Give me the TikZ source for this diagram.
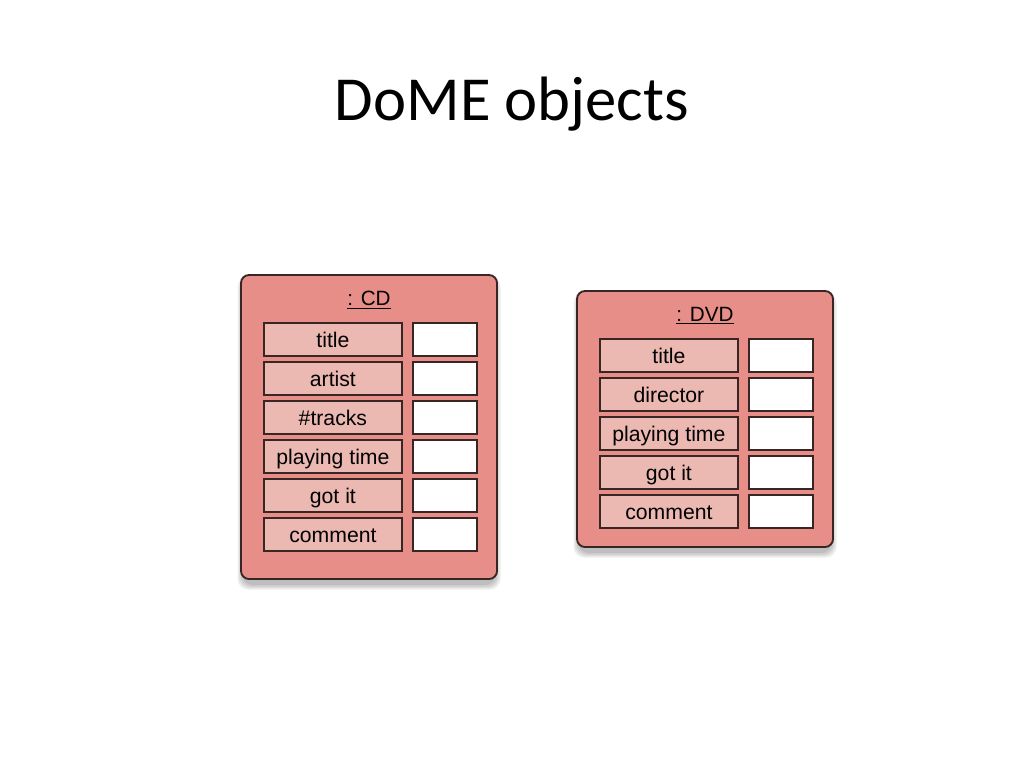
\documentclass[tikz,border=0pt]{standalone}
\usepackage{fontspec}
\setmainfont{Carlito}
\newfontfamily\lblfont{Liberation Sans}
\definecolor{objfill}{RGB}{232,142,136}
\definecolor{lblfill}{RGB}{236,184,178}
\definecolor{edge}{RGB}{55,38,36}
\begin{document}
\begin{tikzpicture}[x=0.75pt,y=-0.75pt,
  objbox/.style={draw=edge,line width=1.4pt,fill=objfill,rounded corners=6pt},
  softshadow/.style={fill=black,opacity=0.07,rounded corners=8pt},
  lblbox/.style={draw=edge,line width=1.35pt,fill=lblfill,minimum width=103.5pt,minimum height=24.75pt,inner sep=0pt,anchor=north west,text height=12.6pt,text depth=0pt,font=\lblfont\fontsize{15.9}{18}\selectfont},
  valbox/.style={draw=edge,line width=1.35pt,fill=white,minimum width=48pt,minimum height=24.75pt,inner sep=0pt,anchor=north west},
  headlbl/.style={font=\lblfont\fontsize{15.5}{18}\selectfont}]
\useasboundingbox (0,0) rectangle (1024,768);
\node[font=\fontsize{47}{56}\selectfont] (title) at (512,104) {DoME objects};
% shadows
\foreach \d in {0,1.5,3,4.5}{
  \path[softshadow] ({241-\d+1},{281-\d}) rectangle ({497+\d-1},{585+\d});
  \path[softshadow] ({577-\d+1},{297-\d}) rectangle ({833+\d-1},{553+\d});
}
% CD object
\path[objbox] (241,275) rectangle (497,579);
\node[headlbl] (cdh) at (369,300) {\underline{: CD}};
\foreach \i/\t in {0/title,1/artist,2/\#tracks,3/playing time,4/got it,5/comment}{
  \node[lblbox] (cdl\i) at (263,{322+39*\i}) {\t};
  \node[valbox] (cdv\i) at (412,{322+39*\i}) {};
}
% DVD object
\path[objbox] (577,291) rectangle (833,547);
\node[headlbl] (dvdh) at (705,316) {\underline{: DVD}};
\foreach \i/\t in {0/title,1/director,2/playing time,3/got it,4/comment}{
  \node[lblbox] (dvdl\i) at (599,{338+39*\i}) {\t};
  \node[valbox] (dvdv\i) at (748,{338+39*\i}) {};
}
\end{tikzpicture}
\end{document}
